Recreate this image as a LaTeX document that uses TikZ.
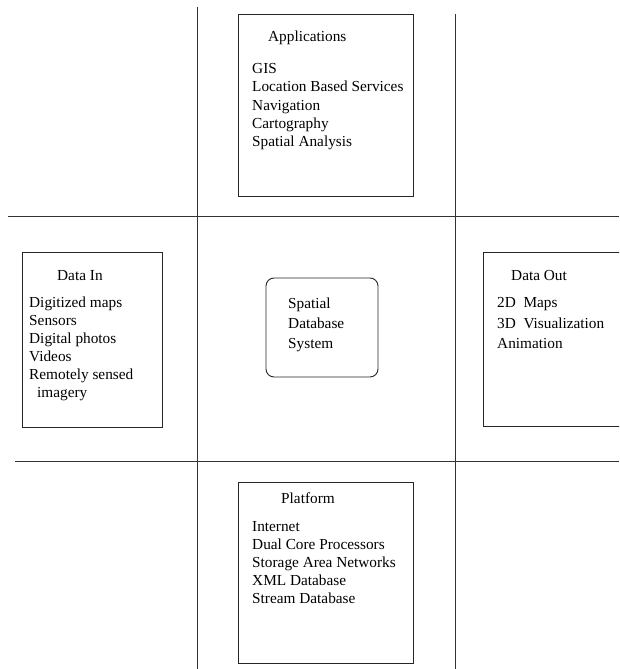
\documentclass[tikz,border=0pt]{standalone}
\usepackage{fontspec}
\setmainfont{Liberation Serif}
\begin{document}
\begin{tikzpicture}[x=1pt,y=-1pt,
  gridline/.style={line width=0.9pt, draw=black!80},
  boxframe/.style={draw=black!85, line width=0.9pt, inner sep=0pt},
  txt/.style={anchor=base west, inner sep=0pt, font=\fontsize{15.3}{18}\selectfont}]
\useasboundingbox (0,0) rectangle (619,669);
\clip (0,0) rectangle (619,669);
% grid lines
\draw[gridline] (197,7) -- (197,669);
\draw[gridline] (455,14) -- (455,669);
\draw[gridline] (8,216) -- (619,216);
\draw[gridline] (15,461) -- (619,461);
% boxes
\draw[boxframe] (238,14) rectangle (413,196);
\draw[boxframe] (22,252) rectangle (162,427);
\draw[boxframe, rounded corners=8pt] (266,278) rectangle (378,377);
\draw[boxframe] (483,252) rectangle (640,426);
\draw[boxframe] (238,482) rectangle (413,663);
% Applications
\node[txt] (apptitle) at (268,42) {Applications};
\foreach \t [count=\i] in {GIS,Location Based Services,Navigation,Cartography,Spatial Analysis}
  \node[txt] (app\i) at (252,74+18*\i-18) {\t};
% Data In
\node[txt] (intitle) at (57,280) {Data In};
\foreach \t [count=\i] in {Digitized maps,Sensors,Digital photos,Videos,Remotely sensed}
  \node[txt] (in\i) at (29,307+18*\i-18) {\t};
\node[txt] (in6) at (37,397) {imagery};
% Spatial Database System
\foreach \t [count=\i] in {Spatial,Database,System}
  \node[txt] (sds\i) at (288,308+20*\i-20) {\t};
% Data Out
\node[txt] (outtitle) at (511,280) {Data Out};
\node[txt] (out1) at (497,307) {2D\ \ Maps};
\node[txt] (out2) at (497,328) {3D\ \ Visualization};
\node[txt] (out3) at (497,348) {Animation};
% Platform
\node[txt] (plattitle) at (281,503) {Platform};
\foreach \t [count=\i] in {Internet,Dual Core Processors,Storage Area Networks,XML Database,Stream Database}
  \node[txt] (plat\i) at (252,531+18*\i-18) {\t};
\end{tikzpicture}
\end{document}
